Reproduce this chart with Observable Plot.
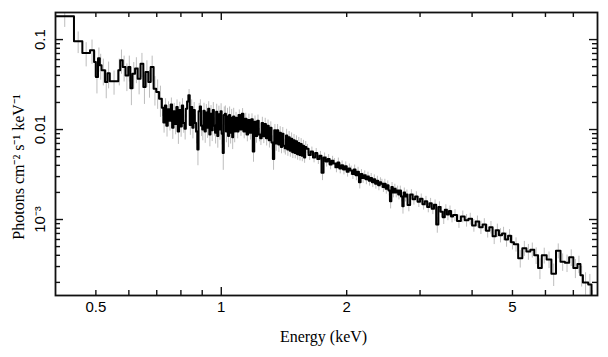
<!DOCTYPE html>
<html>
<head>
<meta charset="utf-8">
<script src="https://cdn.jsdelivr.net/npm/d3@7"></script>
<script src="https://cdn.jsdelivr.net/npm/@observablehq/plot@0.6"></script>
<style>
  html, body { margin: 0; padding: 0; background: #fff; }
</style>
</head>
<body>
<div id="chart"></div>
<script>
// ---- Bin low edges (keV), by region ----
const edgesA = [0.400,0.443,0.464,0.484,0.495,0.500,0.506,0.511,0.516,0.526,0.533,0.540,0.566,0.572,0.580,0.589,0.598,0.605,0.612,0.621,0.630,0.640,0.650,0.658,0.668,0.677,0.688,0.698,0.709];
const edgesB = [0.720,0.726,0.732,0.738,0.744,0.750,0.756,0.762,0.768,0.774,0.780,0.786,0.792,0.798,0.804,0.810,0.816,0.822,0.828,0.834,0.840,0.846,0.852,0.858,0.864,0.870,0.876,0.882,0.888,0.894,0.900,0.906,0.912,0.918,0.924,0.930,0.936,0.942,0.948,0.954,0.960,0.966,0.972,0.978,0.984,0.990,0.996,1.002,1.008,1.014,1.020,1.026,1.032,1.038,1.044,1.050,1.056,1.062,1.068,1.074];
const edgesC = [1.08,1.09,1.10,1.11,1.12,1.13,1.14,1.15,1.16,1.17,1.18,1.19,1.20,1.21,1.22,1.23,1.24,1.25,1.26,1.27,1.28,1.29,1.30,1.31,1.32,1.33,1.34,1.35,1.36,1.37,1.38,1.39,1.40,1.41,1.42,1.43,1.44,1.45,1.46,1.47,1.48,1.49,1.50,1.51,1.52,1.53,1.54,1.55,1.56,1.57,1.58,1.59];
const edgesD1 = [1.60,1.62,1.64,1.66,1.68,1.70,1.72,1.74,1.76,1.78,1.80,1.82,1.84,1.86,1.88,1.90,1.92,1.94,1.96,1.98,
                 2.00,2.02,2.04,2.06,2.08,2.10,2.12,2.14,2.16,2.18,2.20,2.22,2.24,2.26,2.28,2.30,2.32,2.34,2.36,2.38,
                 2.40,2.42,2.44,2.46,2.48,2.50,2.52,2.54,2.56,2.58,2.60,2.62,2.64,2.66,2.68,2.70,2.72,2.74,2.76,2.78];
const edgesD2 = [2.80,2.84,2.88,2.92,2.96,3.00,3.04,3.08,3.12,3.16,3.20,3.24,3.28,3.32,3.36,3.40,3.44,3.48,3.52,3.56];
const edgesE = [3.60,3.68,3.76,3.84,3.92,4.00,4.08,4.16,4.24,4.32,4.40,4.48,4.56,4.64,4.72,4.80,4.88,4.96];
const edgesF = [5.04,5.16,5.28,5.40,5.52,5.64,5.76,5.88,6.04,6.20,6.36,6.52,6.68,6.84,7.00,7.16,7.28,7.38,7.60,7.74];
const lastEdge = 7.80;

// ---- Flux (photons cm^-2 s^-1 keV^-1), by region ----
const fluxA = [0.182,0.0957,0.071,0.076,0.0563,0.0383,0.062,0.052,0.0456,0.0338,0.0423,0.0344,0.0456,0.0589,0.0496,0.040,0.0496,0.0288,0.0418,0.0476,0.0368,0.054,0.0297,0.0437,0.0338,0.0496,0.0285,0.0262,0.022];
const fluxB = [0.0175,0.0120,0.0185,0.0110,0.0168,0.0125,0.0190,0.0105,0.0160,0.0115,
               0.0178,0.0095,0.0165,0.0108,0.0185,0.0118,0.0102,0.0170,0.0205,0.0240,
               0.0112,0.0178,0.0105,0.0165,0.0118,0.0095,0.0060,0.0160,0.0180,0.0110,
               0.0100,0.0162,0.0095,0.0155,0.0105,0.0170,0.0088,0.0150,0.0098,0.0165,
               0.0110,0.0092,0.0158,0.0085,0.0148,0.0100,0.0160,0.0090,0.0055,0.0145,
               0.0150,0.0095,0.0140,0.0085,0.0145,0.0092,0.0135,0.0082,0.0140,0.0095];
const fluxC = [0.0135,0.0095,0.0145,0.0100,0.0150,0.0095,0.0132,0.0088,0.0128,0.0092,
               0.0130,0.0057,0.0122,0.0085,0.0125,0.0088,0.0080,0.0118,0.0084,0.0115,
               0.0080,0.0110,0.0076,0.0105,0.0072,0.0047,0.0098,0.0070,0.0098,0.0068,
               0.0092,0.0064,0.0090,0.0066,0.0062,0.0086,0.0060,0.0082,0.0058,0.0079,
               0.0056,0.0076,0.0055,0.0074,0.0053,0.0071,0.0052,0.0069,0.0051,0.0066,
               0.0049,0.0064];
const fluxD1 = [0.0061,0.0052,0.0057,0.0049,0.0055,0.0047,0.0051,0.0033,0.0049,0.0044,
                0.0047,0.0041,0.0045,0.0042,0.0038,0.0043,0.0037,0.0040,0.0036,0.0039,
                0.0034,0.0037,0.0035,0.0032,0.0036,0.0031,0.0034,0.0026,0.0032,0.0029,
                0.0031,0.0028,0.0030,0.0027,0.0029,0.0026,0.0028,0.0025,0.0027,0.0024,
                0.0026,0.0025,0.0023,0.0025,0.0022,0.0024,0.0021,0.0016,0.0023,0.0020,
                0.0022,0.0020,0.0021,0.0019,0.0021,0.0018,0.0014,0.0020,0.0018,0.0019];
const fluxD2 = [0.00145,0.00190,0.00168,0.00180,0.00158,0.00170,0.00148,0.00160,0.00138,0.00152,
                0.00132,0.00146,0.00088,0.00138,0.00122,0.00106,0.00128,0.00114,0.00124,0.00108];
const fluxE = [0.00112,0.00096,0.00108,0.00098,0.00102,0.00086,0.00095,0.00082,0.00088,0.00075,0.00082,0.00065,0.00076,0.00067,0.00070,0.00060,0.00066,0.00056];
const fluxF = [0.00053,0.00037,0.00048,0.00044,0.00046,0.00040,0.00029,0.00040,0.00036,0.00025,0.00045,0.00034,0.00033,0.00038,0.00029,0.00032,0.00024,0.00020,0.00019,0.00012];

// ---- Relative 1-sigma errors, by region ----
const errA = [0.25,0.27,0.30,0.30,0.32,0.35,0.30,0.32,0.33,0.35,0.33,0.30,0.33,0.30,0.32,0.34,0.32,0.36,0.33,0.32,0.34,0.30,0.36,0.33,0.34,0.32,0.36,0.36,0.38];
const errB = [0.20,0.24,0.19,0.25,0.21,0.23,0.18,0.26,0.22,0.24,
              0.20,0.28,0.22,0.24,0.19,0.23,0.25,0.21,0.18,0.16,
              0.23,0.20,0.25,0.21,0.23,0.27,0.34,0.22,0.19,0.24,
              0.25,0.21,0.26,0.22,0.24,0.20,0.27,0.23,0.25,0.21,
              0.23,0.25,0.21,0.27,0.23,0.24,0.21,0.25,0.36,0.23,
              0.22,0.25,0.23,0.26,0.23,0.25,0.24,0.27,0.23,0.25];
const errC = [0.15,0.17,0.14,0.16,0.14,0.17,0.15,0.17,0.16,0.17,
              0.15,0.24,0.16,0.17,0.16,0.17,0.17,0.16,0.17,0.16,
              0.18,0.16,0.18,0.16,0.18,0.25,0.16,0.18,0.16,0.18,
              0.17,0.16,0.17,0.17,0.16,0.17,0.16,0.16,0.15,0.16,
              0.15,0.16,0.14,0.15,0.14,0.15,0.14,0.15,0.14,0.15,
              0.14,0.15];
const errD1 = [0.12,0.13,0.12,0.13,0.12,0.13,0.12,0.18,0.12,0.13,
               0.12,0.13,0.12,0.13,0.13,0.12,0.13,0.12,0.13,0.12,
               0.13,0.12,0.12,0.13,0.12,0.13,0.12,0.16,0.12,0.13,
               0.12,0.13,0.12,0.13,0.12,0.13,0.12,0.13,0.12,0.13,
               0.12,0.12,0.13,0.12,0.13,0.12,0.13,0.18,0.12,0.13,
               0.12,0.13,0.12,0.13,0.12,0.13,0.18,0.12,0.13,0.12];
const errD2 = [0.16,0.13,0.14,0.13,0.14,0.13,0.14,0.13,0.14,0.13,
               0.14,0.13,0.20,0.14,0.14,0.17,0.14,0.15,0.14,0.15];
const errE = [0.15,0.17,0.15,0.16,0.15,0.16,0.15,0.17,0.16,0.17,0.16,0.19,0.17,0.18,0.17,0.18,0.17,0.18];
const errF = [0.18,0.22,0.19,0.20,0.19,0.21,0.26,0.20,0.21,0.28,0.19,0.22,0.22,0.21,0.24,0.22,0.26,0.28,0.29,0.35];

// ---- Axis ticks and labels ----
const xMajorTicks = [1];
const xMinorTicks = [0.5,0.6,0.7,0.8,0.9,2,3,4,5,6,7];
const xTickLabels = [0.5, 1, 2, 5];
const xTickText = ["0.5", "1", "2", "5"];
const yMajorTicks = [0.1, 0.01, 0.001];
const yMinorTicks = [0.0002,0.0003,0.0004,0.0005,0.0006,0.0007,0.0008,0.0009,
                     0.002,0.003,0.004,0.005,0.006,0.007,0.008,0.009,
                     0.02,0.03,0.04,0.05,0.06,0.07,0.08,0.09];
const yTickLabels = [0.1, 0.01, 0.001];
const yTickText = ["0.1", "0.01", "10\u207B\u00B3"];
const xTitle = "Energy (keV)";
const yTitle = "Photons cm\u207B\u00B2 s\u207B\u00B9 keV\u207B\u00B9";

// ---- Build table ----
const lo = [...edgesA, ...edgesB, ...edgesC, ...edgesD1, ...edgesD2, ...edgesE, ...edgesF];
const flux = [...fluxA, ...fluxB, ...fluxC, ...fluxD1, ...fluxD2, ...fluxE, ...fluxF];
const err = [...errA, ...errB, ...errC, ...errD1, ...errD2, ...errE, ...errF];
if (lo.length !== flux.length || flux.length !== err.length) {
  throw new Error(`length mismatch ${lo.length} ${flux.length} ${err.length}`);
}
const hi = [...lo.slice(1), lastEdge];
const bins = lo.map((l, i) => ({lo: l, hi: hi[i], f: flux[i], e: err[i]}));
const stepPts = bins.map(b => ({x: b.lo, y: b.f})).concat([{x: lastEdge, y: flux[flux.length - 1]}]);

const W = 608, H = 357;
const mL = 55, mR = 11, mT = 12, mB = 62;
const innerH = H - mT - mB, innerW = W - mL - mR;
const minorLen = 5, majorLen = 8;
const tickColor = "#111";

const chart = Plot.plot({
  width: W, height: H,
  marginLeft: mL, marginRight: mR, marginTop: mT, marginBottom: mB,
  x: {type: "log", domain: [0.4, 8], axis: null},
  y: {type: "log", domain: [1.43e-4, 0.2], axis: null},
  style: {fontFamily: "Liberation Sans, Arial, sans-serif", fontSize: "15px", background: "#fff", color: "#000"},
  marks: [
    Plot.ruleX(bins, {x: b => Math.sqrt(b.lo * b.hi), y1: b => b.f * (1 - b.e), y2: b => b.f * (1 + b.e), stroke: "#bdbdbd", strokeWidth: 1, clip: true}),
    Plot.line(stepPts, {x: "x", y: "y", curve: "step-after", stroke: "#000", strokeWidth: 2, clip: true}),
    // inward ticks: bottom, top
    Plot.tickX(xMinorTicks, {x: d => d, insetTop: innerH - minorLen, stroke: tickColor, strokeWidth: 1.4}),
    Plot.tickX(xMinorTicks, {x: d => d, insetBottom: innerH - minorLen, stroke: tickColor, strokeWidth: 1.4}),
    Plot.tickX(xMajorTicks, {x: d => d, insetTop: innerH - majorLen, stroke: tickColor, strokeWidth: 1.4}),
    Plot.tickX(xMajorTicks, {x: d => d, insetBottom: innerH - majorLen, stroke: tickColor, strokeWidth: 1.4}),
    // inward ticks: left, right
    Plot.tickY(yMinorTicks, {y: d => d, insetRight: innerW - minorLen, stroke: tickColor, strokeWidth: 1.4}),
    Plot.tickY(yMinorTicks, {y: d => d, insetLeft: innerW - minorLen, stroke: tickColor, strokeWidth: 1.4}),
    Plot.tickY(yMajorTicks, {y: d => d, insetRight: innerW - majorLen, stroke: tickColor, strokeWidth: 1.4}),
    Plot.tickY(yMajorTicks, {y: d => d, insetLeft: innerW - majorLen, stroke: tickColor, strokeWidth: 1.4}),
    Plot.frame({stroke: "#111", strokeWidth: 1.8}),
    // tick labels
    Plot.text(xTickLabels, {x: d => d, frameAnchor: "bottom", dy: 12, lineAnchor: "middle", text: (d, i) => xTickText[i], fontSize: 15, fill: "#000"}),
    Plot.text(yTickLabels, {y: d => d, frameAnchor: "left", dx: -15, rotate: -90, lineAnchor: "middle", textAnchor: "middle", text: (d, i) => yTickText[i], fontSize: 15, fill: "#000"}),
    // axis titles
    Plot.text([xTitle], {frameAnchor: "bottom", dx: -3, dy: 41, lineAnchor: "middle", text: d => d, fontFamily: "Liberation Serif, Times New Roman, serif", fontSize: 16, fill: "#000"}),
    Plot.text([yTitle], {frameAnchor: "left", dx: -37, dy: 13, rotate: -90, lineAnchor: "middle", textAnchor: "middle", text: d => d, fontFamily: "Liberation Serif, Times New Roman, serif", fontSize: 16, fill: "#000"})
  ]
});
document.getElementById("chart").appendChild(chart);
</script>
</body>
</html>
